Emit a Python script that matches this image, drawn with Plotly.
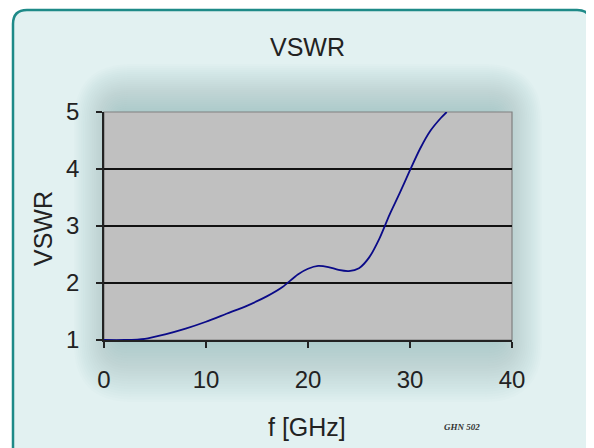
import plotly.graph_objects as go

# ---- data ----
freq_ghz = [0, 2, 4, 6, 8, 10, 12, 14, 16, 17.5, 19, 20, 21, 22, 23, 24, 25, 26, 27, 28, 29, 30, 31, 32, 33, 33.6]
vswr = [1.0, 1.0, 1.02, 1.1, 1.2, 1.32, 1.46, 1.6, 1.77, 1.93, 2.15, 2.25, 2.30, 2.28, 2.23, 2.21, 2.26, 2.45, 2.78, 3.2, 3.58, 3.98, 4.36, 4.67, 4.89, 5.0]
x_ticks = [0, 10, 20, 30, 40]
y_ticks = [1, 2, 3, 4, 5]

OFF = 8  # page body margin
W, H = 594 - OFF, 448 - OFF
L, R, T, B = 104 - OFF, 512 - OFF, 112 - OFF, 340 - OFF  # plot area in figure pixels


def px(x):
    return (x - OFF - L) / (R - L)


def py(y):
    return (B - (y - OFF)) / (B - T)


def rrect(x0, y0, x1, y1, r):
    # rounded rectangle path in paper coords, given reference pixel coords
    X0, X1 = px(x0), px(x1)
    Y0, Y1 = py(y0), py(y1)
    rx = r / (R - L)
    ry = r / (B - T)
    return (f"M {X0+rx},{Y0} L {X1-rx},{Y0} Q {X1},{Y0} {X1},{Y0-ry} "
            f"L {X1},{Y1+ry} Q {X1},{Y1} {X1-rx},{Y1} L {X0+rx},{Y1} "
            f"Q {X0},{Y1} {X0},{Y1+ry} L {X0},{Y0-ry} Q {X0},{Y0} {X0+rx},{Y0} Z")


PL, PR, PT, PB = 104, 512, 112, 340
shapes = []
# outer box
shapes.append(dict(type="path", xref="paper", yref="paper", path=rrect(13, 10, 591, 462, 14),
                   fillcolor="#e2f1f1", line=dict(color="#1e8a88", width=2.5), layer="below"))
# soft shadow glow around plot area (stronger above/below than at sides)
n = 24
for i in range(n):
    f = 1 - i / n
    side = 44 * f - 14
    shapes.append(dict(type="path", xref="paper", yref="paper",
                       path=rrect(PL - side, PT - 48 * f, PR + side, PB + 62 * f, 8 + 50 * f),
                       fillcolor="rgba(118,156,160,0.024)", line=dict(width=0), layer="below"))
# plot area background
shapes.append(dict(type="rect", xref="paper", yref="paper", x0=0, x1=1, y0=0, y1=1,
                   fillcolor="#c0c0c0", line=dict(color="#808080", width=1.2), layer="below"))

fig = go.Figure()
fig.add_trace(go.Scatter(x=freq_ghz, y=vswr, mode="lines",
                         line=dict(color="#0a0a88", width=1.8, shape="spline", smoothing=0.8),
                         hoverinfo="skip"))

font = "Liberation Sans, Arial, sans-serif"
fs = 24
fig.update_layout(
    width=W, height=H,
    margin=dict(l=L, r=W - R, t=T, b=H - B),
    paper_bgcolor="white",
    plot_bgcolor="rgba(0,0,0,0)",
    showlegend=False,
    shapes=shapes,
    font=dict(family=font, size=fs, color="#222222"),
    xaxis=dict(range=[0, 40], tickvals=x_ticks, showgrid=False, zeroline=False,
               showline=True, linecolor="#222222", linewidth=1.5,
               ticks="outside", ticklen=6, tickcolor="#222222", tickwidth=1.5,
               tickfont=dict(size=fs, color="#222222"), ticklabelstandoff=11),
    yaxis=dict(range=[1, 5], tickvals=y_ticks, showgrid=True, gridcolor="#111111", gridwidth=1.5,
               zeroline=False, showline=True, linecolor="#222222", linewidth=1.5,
               ticks="outside", ticklen=6, tickcolor="#222222", tickwidth=1.5,
               tickfont=dict(size=fs, color="#222222"), ticklabelstandoff=12),
    annotations=[
        dict(text="VSWR", xref="paper", yref="paper", x=px(307), y=py(47), showarrow=False,
             font=dict(size=25, color="#222222", family=font), xanchor="center", yanchor="middle"),
        dict(text="VSWR", xref="paper", yref="paper", x=px(43), y=py(229), showarrow=False,
             textangle=-90, font=dict(size=25, color="#222222", family=font),
             xanchor="center", yanchor="middle"),
        dict(text="f [GHz]", xref="paper", yref="paper", x=px(307), y=py(427), showarrow=False,
             font=dict(size=25, color="#222222", family=font), xanchor="center", yanchor="middle"),
        dict(text="<b><i>GHN 502</i></b>", xref="paper", yref="paper", x=px(462), y=py(427),
             showarrow=False, font=dict(size=9, color="#333333", family="Liberation Serif, serif"),
             xanchor="center", yanchor="middle"),
    ],
)

fig.write_html("out.html")
